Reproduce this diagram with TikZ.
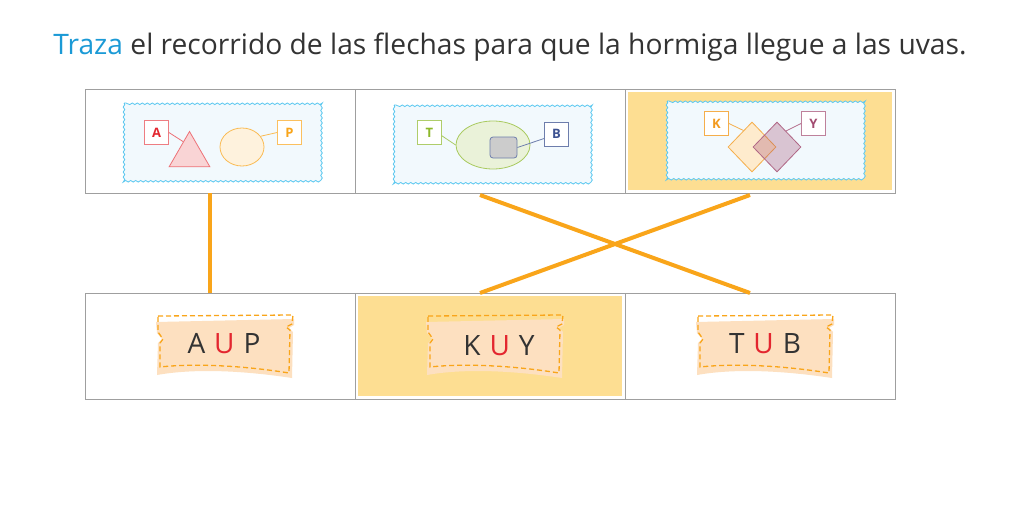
\documentclass[tikz,border=0pt]{standalone}
\usepackage{fontspec}
\setmainfont{Open Sans}
\usepackage{xcolor}
\usepackage{tikz}
\usetikzlibrary{calc}
\usetikzlibrary{positioning,shapes.geometric,decorations.pathmorphing}
\definecolor{azul}{HTML}{1B9AD6}
\definecolor{texto}{HTML}{333333}
\definecolor{amarillo}{HTML}{FDDE92}
\definecolor{naranja}{HTML}{F9A51A}
\definecolor{melocoton}{HTML}{FDE0C0}
\definecolor{celeste}{HTML}{5BC8F0}
\definecolor{fondo}{HTML}{F2F9FD}
\definecolor{rojo}{HTML}{E3262F}
\definecolor{verde}{HTML}{8DB82A}
\definecolor{azulB}{HTML}{3D5291}
\definecolor{naranjaK}{HTML}{F29A1E}
\definecolor{malva}{HTML}{A24B70}
\colorlet{borde}{gray!75}
\newcommand{\palabra}[2]{#1\hspace{9pt}{\color{rojo}U}\hspace{9pt}#2}

\begin{document}
\begin{tikzpicture}[
x=1pt, y=-1pt,
Casilla/.style={draw=borde,line width=0.9pt,fill=white,minimum width=270pt,inner sep=0pt,outer sep=0pt},
Panel/.style={draw=celeste,fill=fondo,line width=0.8pt,decorate,decoration={snake,segment length=5pt,amplitude=0.8pt}},
Etiqueta/.style={fill=white,line width=0.8pt,minimum size=24pt,inner sep=0pt,font=\bfseries\fontsize{13}{13}\selectfont},
Letras/.style={text=texto,inner sep=0pt,font=\fontsize{28}{28}\selectfont},
Camino/.style={draw=naranja,line width=4pt},
node distance=0pt,
boleto/.pic={
  \fill[melocoton] (0,7) -- (138,4) -- (138,10) -- (133,13) -- (137,17) -- (136,63)
     .. controls (90,56) and (40,53) .. (1,60) -- (2,28) -- (6,24) -- (1,18) -- cycle;
  \draw[naranja,line width=1.3pt,dash pattern=on 5pt off 3pt] (2,1) -- (137,0) -- (136,9)
     -- (130,12) -- (134,15) -- (133,58) .. controls (90,51) and (40,48) .. (4,52)
     -- (4,28) -- (7,24) -- (2,17) -- cycle;
}
]
\useasboundingbox (0,0) rectangle (1028,506);

% titulo
\node[text=texto,font=\fontsize{28.2}{28.2}\selectfont,anchor=base] (titulo) at (510,54)
  {\textcolor{azul}{Traza} el recorrido de las flechas para que la hormiga llegue a las uvas.};

% fila de arriba
\node[Casilla,minimum height=104pt] (figA) at (220,141) {};
\node[Casilla,minimum height=104pt,right=of figA] (figT) {};
\node[Casilla,minimum height=104pt,right=of figT] (figK) {};
\fill[amarillo] ($(figK.north west)+(3,3)$) rectangle ($(figK.south east)+(-3,-3)$);

% fila de abajo
\node[Casilla,minimum height=106pt] (palAUP) at (220,346) {};
\node[Casilla,minimum height=106pt,right=of palAUP] (palKUY) {};
\node[Casilla,minimum height=106pt,right=of palKUY] (palTUB) {};
\fill[amarillo] ($(palKUY.north west)+(3,3)$) rectangle ($(palKUY.south east)+(-3,-3)$);

% paneles ondulados
\path[Panel] (124,103) rectangle (322,180);
\path[Panel] (394,105) rectangle (592,182);
\path[Panel] (667,101) rectangle (864,179);

% A y P
\node[Etiqueta,draw=rojo!60,text=rojo] (lblA) at (156.5,132.5) {A};
\node[regular polygon,regular polygon sides=3,minimum size=47pt,inner sep=0pt,
  draw=rojo!65,fill=rojo!20,line width=0.8pt] (tri) at (189.5,155) {};
\draw[rojo!65,line width=0.8pt] (lblA.east) -- ($(tri.corner 1)!0.3!(tri.corner 2)$);
\node[ellipse,minimum width=44pt,minimum height=38pt,inner sep=0pt,
  draw=naranja!75,fill=naranja!15,line width=0.8pt] (circP) at (242,147) {};
\node[Etiqueta,draw=naranja!70,text=naranja] (lblP) at (289.5,132.5) {P};
\draw[naranja!75,line width=0.8pt] (circP.30) -- (lblP.west);

% T y B
\node[Etiqueta,draw=verde!70,text=verde] (lblT) at (429.5,132.5) {T};
\node[ellipse,minimum width=74pt,minimum height=48pt,inner sep=0pt,
  draw=verde!75,fill=verde!18,line width=0.8pt] (elT) at (493,145) {};
\draw[verde!75,line width=0.8pt] (lblT.-15) -- (elT.west);
\node[rectangle,rounded corners=3pt,minimum width=27pt,minimum height=21pt,inner sep=0pt,
  draw=azulB!75,fill=gray!40,line width=0.8pt] (cajaB) at (503.5,147.5) {};
\node[Etiqueta,draw=azulB!75,text=azulB] (lblB) at (556.5,134) {B};
\draw[azulB!75,line width=0.8pt] (cajaB.east) -- (lblB.200);

% K y Y
\node[Etiqueta,draw=naranjaK!80,text=naranjaK] (lblK) at (716.5,123.5) {K};
\node[diamond,minimum width=48pt,minimum height=50pt,inner sep=0pt,
  draw=naranjaK!80,fill=naranja!22,line width=0.8pt] (romboK) at (752,147) {};
\node[diamond,minimum width=48pt,minimum height=50pt,inner sep=0pt,
  draw=malva!85,fill=malva,fill opacity=0.3,line width=0.8pt] (romboY) at (777,147) {};
\node[Etiqueta,draw=malva!70,text=malva] (lblY) at (813.5,123.5) {Y};
\draw[naranjaK!80,line width=0.8pt] (lblK.east) -- ($(romboK.north)!0.35!(romboK.west)$);
\draw[malva!80,line width=0.8pt] (lblY.west) -- ($(romboY.north)!0.37!(romboY.east)$);

% boletos
\pic at (156,315) {boleto};
\pic at (426,315) {boleto};
\pic at (696,315) {boleto};
\node[Letras] (wAUP) at (224,344) {\palabra{A}{P}};
\node[Letras] (wKUY) at (499,346) {\palabra{K}{Y}};
\node[Letras] (wTUB) at (765,344) {\palabra{T}{B}};

% caminos
\draw[Camino] ($(figA.south west)+(125,0)$) -- ($(palAUP.north west)+(125,0)$);
\draw[Camino] ($(figT.south west)+(125,2)$) -- ($(palTUB.north west)+(125,0)$);
\draw[Camino] ($(figK.south west)+(125,2)$) -- ($(palKUY.north west)+(125,0)$);

\end{tikzpicture}
\end{document}
